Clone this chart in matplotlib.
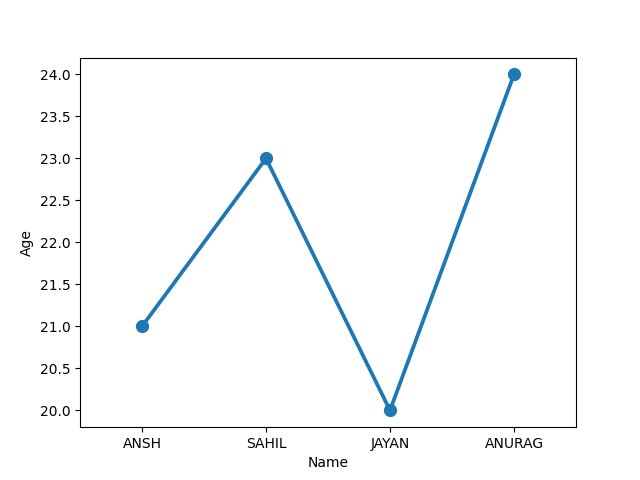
import matplotlib
matplotlib.use("Agg")
import matplotlib.pyplot as plt

names = ["ANSH", "SAHIL", "JAYAN", "ANURAG"]
ages = [21, 23, 20, 24]

fig, ax = plt.subplots(figsize=(6.4, 4.8), dpi=100)
x = list(range(len(names)))
ax.plot(x, ages, color="#1f77b4", linewidth=2.7, marker="o", markersize=8.5)
ax.set_xticks(x)
ax.set_xticklabels(names)
ax.set_xlim(-0.5, len(names) - 0.5)
ax.set_xlabel("Name")
ax.set_ylabel("Age")
fig.savefig("out.png", dpi=100)
